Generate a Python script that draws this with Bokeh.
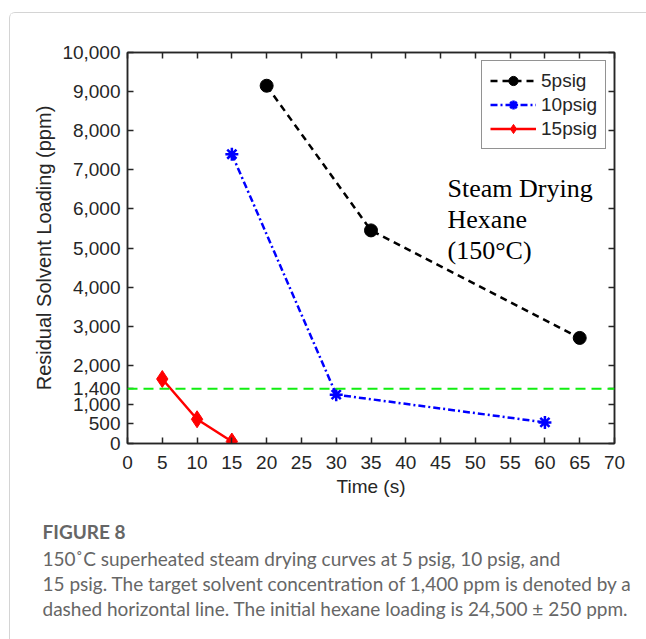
from bokeh.plotting import figure
from bokeh.models import (FixedTicker, LinearAxis, NumeralTickFormatter, Span, Label,
                          Legend, LegendItem, Range1d, Title)
from bokeh.embed import file_html
from bokeh.resources import INLINE

# ---- data ----
t_5 = [20, 35, 65]
v_5 = [9150, 5450, 2700]
t_10 = [15, 30, 60]
v_10 = [7400, 1250, 540]
t_15 = [5, 10, 15]
v_15 = [1650, 620, 50]
target = 1400
x_ticks = [0, 5, 10, 15, 20, 25, 30, 35, 40, 45, 50, 55, 60, 65, 70]
y_ticks = [0, 500, 1000, 1400, 2000, 3000, 4000, 5000, 6000, 7000, 8000, 9000, 10000]
series_names = ["5psig", "10psig", "15psig"]
annotation = ["Steam Drying", "Hexane", "(150°C)"]
caption_title = "FIGURE 8"
caption_lines = [
    "150˚C superheated steam drying curves at 5 psig, 10 psig, and",
    "15 psig. The target solvent concentration of 1,400 ppm is denoted by a",
    "dashed horizontal line. The initial hexane loading is 24,500 ± 250 ppm.",
]

FONT = "Liberation Sans"
AX = "#262626"

p = figure(width=637, height=627, output_backend="svg", toolbar_location=None,
           x_range=Range1d(0, 70), y_range=Range1d(0, 10000),
           min_border_left=117, min_border_right=33, min_border_top=39,
           min_border_bottom=197, x_axis_label="Time (s)",
           y_axis_label="Residual Solvent Loading (ppm)")
p.margin = (12, 0, 0, 9)
p.styles = {"border-top": "1px solid #d4d4d4", "border-left": "1px solid #d4d4d4",
            "border-top-left-radius": "6px"}
p.xgrid.visible = False
p.ygrid.visible = False
p.outline_line_color = AX
p.outline_line_width = 1.5
p.background_fill_color = "white"
p.border_fill_color = "white"


def style_axis(ax, ticks, show_labels):
    ax.ticker = FixedTicker(ticks=ticks)
    ax.major_tick_in = 6
    ax.major_tick_out = 0
    ax.minor_tick_line_color = None
    ax.axis_line_color = AX
    ax.axis_line_width = 1.5
    ax.major_tick_line_color = AX
    ax.major_tick_line_width = 1.5
    ax.major_label_text_font = FONT
    ax.major_label_text_font_size = "19px"
    ax.major_label_text_color = AX
    ax.axis_label_text_font = FONT
    ax.axis_label_text_font_size = "19px"
    ax.axis_label_text_font_style = "normal"
    ax.axis_label_text_color = AX
    if not show_labels:
        ax.major_label_overrides = {t: "" for t in ticks}


style_axis(p.xaxis[0], x_ticks, True)
style_axis(p.yaxis[0], y_ticks, True)
p.yaxis[0].formatter = NumeralTickFormatter(format="0,0")
p.xaxis[0].major_label_standoff = 12
p.xaxis[0].axis_label_standoff = 4
p.yaxis[0].major_label_standoff = 7
p.yaxis[0].axis_label_standoff = 4
p.yaxis[0].axis_label_text_font_size = "20px"

top_ax = LinearAxis()
style_axis(top_ax, x_ticks, False)
p.add_layout(top_ax, "above")
right_ax = LinearAxis()
style_axis(right_ax, y_ticks, False)
p.add_layout(right_ax, "right")

# blank spacer between the x axis and the caption (white on white)
spacer = LinearAxis(ticker=FixedTicker(ticks=[35]), major_tick_out=16, major_tick_in=0,
                    axis_line_color="white", major_tick_line_color="white",
                    minor_tick_line_color=None, major_label_standoff=0,
                    major_label_text_font_size="0px", major_label_overrides={35: ""})
p.add_layout(spacer, "below")

# target line
p.add_layout(Span(location=target, dimension="width", line_color="#11ee11",
                  line_width=2, line_dash="10 6"))

l5 = p.line(t_5, v_5, line_color="black", line_width=2.5, line_dash="7 5")
s5 = p.scatter(t_5, v_5, marker="circle", size=13, fill_color="black", line_color="black")
l10 = p.line(t_10, v_10, line_color="#0000ff", line_width=2.5, line_dash="7 3 2 3")
s10 = p.scatter(t_10, v_10, marker="asterisk", size=13, line_color="#0000ff", line_width=2.5)
l15 = p.line(t_15, v_15, line_color="#ff0000", line_width=2.5)
s15 = p.scatter(t_15, v_15, marker="diamond", size=17, fill_color="#ff0000", line_color="#ff0000")

legend = Legend(items=[LegendItem(label=series_names[0], renderers=[l5, s5]),
                       LegendItem(label=series_names[1], renderers=[l10, s10]),
                       LegendItem(label=series_names[2], renderers=[l15, s15])],
                location="top_right", margin=8, glyph_width=46, glyph_height=23,
                label_height=23, spacing=1, padding=8, label_standoff=5,
                label_text_font=FONT, label_text_font_size="19px", label_text_color=AX,
                border_line_color=AX, border_line_width=1.5, background_fill_alpha=1)
p.add_layout(legend)

# in-plot annotation
for txt, yv in zip(annotation, [6520, 5730, 4940]):
    p.add_layout(Label(x=46, y=yv, text=txt, text_font="Liberation Serif",
                       text_font_size="26px", text_color="black",
                       text_baseline="alphabetic"))

# caption as titles below the plot
p.add_layout(Title(text=caption_title, align="left", offset=-85, standoff=4,
                   text_font="Lato", text_font_size="19px", text_font_style="bold",
                   text_color="#666666"), "below")
for line in caption_lines:
    p.add_layout(Title(text=line, align="left", offset=-85, standoff=0,
                       text_font="Lato", text_font_size="19px",
                       text_font_style="normal", text_color="#666666"), "below")

open("out.html", "w").write(file_html(p, INLINE))
